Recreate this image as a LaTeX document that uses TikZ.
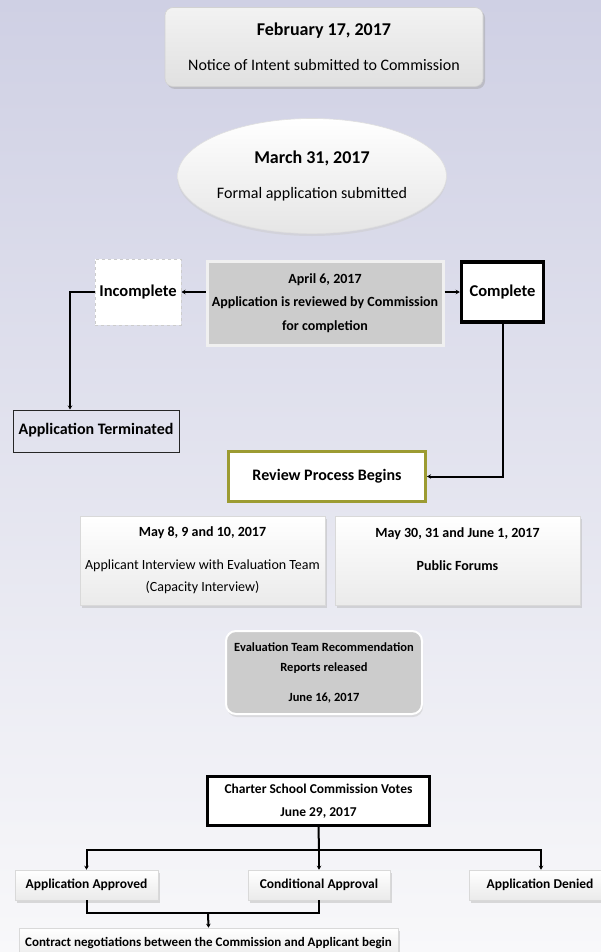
\documentclass[tikz,border=0pt]{standalone}
\usepackage{fontspec}
\setmainfont{Carlito}
\usetikzlibrary{shapes.geometric,shadows,arrows.meta}

\definecolor{bgtop}{HTML}{CFD0E4}
\definecolor{bgbottom}{HTML}{F8F8FA}
\definecolor{olivebox}{HTML}{9C9B32}
\definecolor{boxgray}{HTML}{CCCCCC}

\begin{document}
\begin{tikzpicture}[x=1pt, y=-1pt,
  every node/.style={inner sep=0pt, align=center, text=black},
  link/.style={line width=2pt},
  arrow/.style={link, -{Stealth[length=4pt,width=4.5pt]}},
  softbox/.style={rectangle, draw=gray!30, line width=0.6pt, top color=white, bottom color=gray!16,
    drop shadow={shadow xshift=1.5pt, shadow yshift=-2.5pt, fill=gray!55}},
  plainbox/.style={rectangle, draw=black!85, line width=1pt},
  heavybox/.style={rectangle, draw=black, fill=white, line width=3pt}
]
\clip (0,0) rectangle (601,952);
\shade[top color=bgtop, bottom color=bgbottom] (0,0) rectangle (601,952);

% top of the process
\node[rectangle, rounded corners=8pt, draw=gray!35, line width=0.6pt, top color=gray!10, bottom color=gray!24,
  drop shadow={shadow xshift=2pt, shadow yshift=-2.5pt, fill=gray!70},
  minimum width=318pt, minimum height=79pt, font=\fontsize{16}{35}\selectfont] (notice) at (324,47)
  {\textbf{\fontsize{18}{35}\selectfont February 17, 2017}\\Notice of Intent submitted to Commission};
\node[ellipse, draw=gray!25, line width=0.6pt, top color=white, bottom color=gray!20,
  drop shadow={shadow xshift=0pt, shadow yshift=-2.5pt, fill=gray!40},
  minimum width=265pt, minimum height=115pt, font=\fontsize{16}{35}\selectfont] (formal) at (312,176)
  {\textbf{\fontsize{18}{35}\selectfont March 31, 2017}\\Formal application submitted};

\node[rectangle, draw=white!88!gray, line width=3pt, fill=boxgray,
  minimum width=236pt, minimum height=84pt, font=\fontsize{14}{23.5}\bfseries] (review) at (325,303)
  {April 6, 2017\\Application is reviewed by Commission\\for completion};
\node[rectangle, draw=gray!40, dashed, line width=1pt, fill=white,
  minimum width=86pt, minimum height=66pt, font=\fontsize{16.5}{20}\bfseries] (incomplete) at (138,292) {Incomplete};
\node[heavybox, line width=3.5pt, minimum width=82pt, minimum height=60pt,
  font=\fontsize{16.5}{20}\bfseries] (complete) at (502.5,292) {Complete};
\node[plainbox, minimum width=166pt, minimum height=42pt, font=\fontsize{16}{20}\bfseries] (terminated) at (96,431)
  {\raisebox{4pt}{Application Terminated}};
\node[rectangle, draw=olivebox, fill=white, line width=3pt, minimum width=197pt, minimum height=50pt,
  font=\fontsize{16}{20}\bfseries] (begins) at (327,476.5) {Review Process Begins};

\draw[arrow] (review.west |- incomplete.east) -- (incomplete.east);
\draw[arrow] (review.east |- complete.west) -- (complete.west);
\draw[arrow] (incomplete.west) -| ([xshift=-26pt]terminated.north);
\draw[arrow] (complete.south) |- (begins.east);

% review period
\node[softbox, minimum width=245pt, minimum height=89pt, font=\fontsize{14}{22}\selectfont] (interview) at (202.5,560.5)
  {\textbf{May 8, 9 and 10, 2017}\\[11pt]Applicant Interview with Evaluation Team\\(Capacity Interview)};
\node[softbox, minimum width=245pt, minimum height=89pt, font=\fontsize{14}{22}\selectfont] (forums) at (457.5,560.5)
  {\textbf{May 30, 31 and June 1, 2017}\\[11pt]\textbf{Public Forums}\\~};
\node[rectangle, rounded corners=10pt, draw=white, line width=2pt, fill=boxgray,
  drop shadow={shadow xshift=1pt, shadow yshift=-3pt, fill=gray!45},
  minimum width=196pt, minimum height=83pt, font=\fontsize{12.5}{20}\bfseries] (reports) at (324,672.5)
  {Evaluation Team Recommendation\\Reports released\\[10pt]June 16, 2017};

% decision
\node[heavybox, minimum width=222pt, minimum height=49pt, font=\fontsize{13.5}{23}\bfseries] (votes) at (318.5,801)
  {Charter School Commission Votes\\June 29, 2017};
\node[softbox, minimum width=143pt, minimum height=30pt, font=\fontsize{13.5}{16}\bfseries] (approved) at (86.5,885) {Application Approved};
\node[softbox, minimum width=142pt, minimum height=30pt, font=\fontsize{13.5}{16}\bfseries] (conditional) at (319,885) {Conditional Approval};
\node[softbox, minimum width=142pt, minimum height=30pt, font=\fontsize{13.5}{16}\bfseries] (denied) at (540,885) {Application Denied};
\node[softbox, minimum width=379pt, minimum height=30pt, font=\fontsize{13}{16}\bfseries] (contract) at (208.5,943)
  {Contract negotiations between the Commission and Applicant begin};

\coordinate (vsplit) at (319,850);
\coordinate (merge) at (208,913);
\draw[link] (votes.south) -- (vsplit);
\draw[arrow] (vsplit) -| (approved.north);
\draw[arrow] (vsplit) -- (conditional.north);
\draw[arrow] (vsplit) -| ([xshift=1pt]denied.north);
\draw[link] (approved.south) |- (merge) -| (conditional.south);
\draw[arrow] (merge) -- (contract.north);
\end{tikzpicture}
\end{document}
